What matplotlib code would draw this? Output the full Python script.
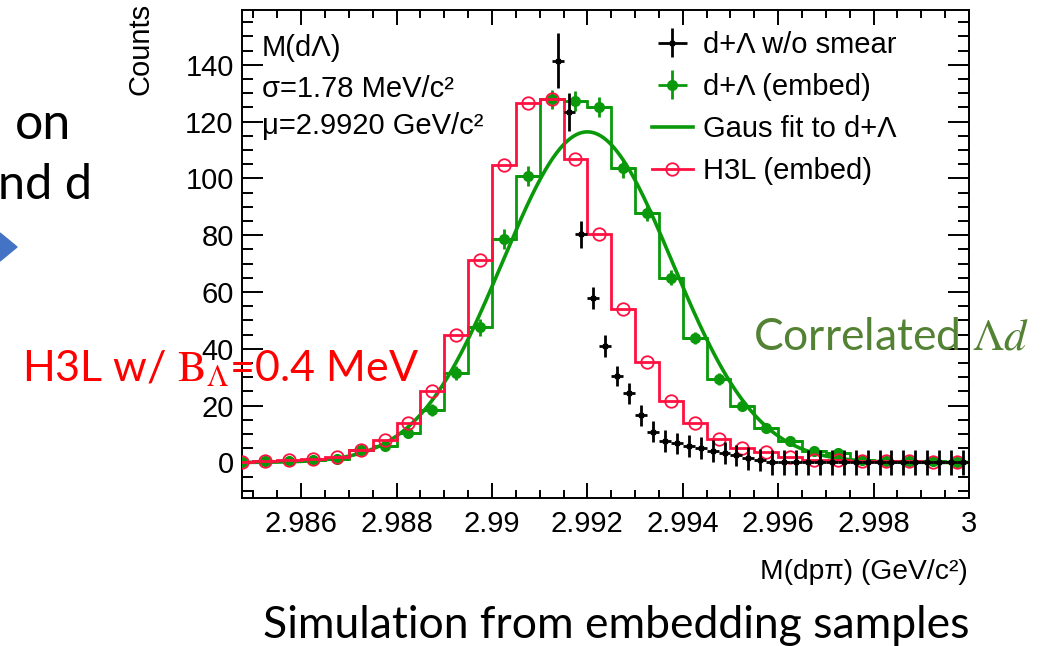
import numpy as np
import matplotlib
matplotlib.use("Agg")
import matplotlib.pyplot as plt
from matplotlib.lines import Line2D
from matplotlib.patches import Polygon

# ---------------- data ----------------
bin_width = 0.0005          # GeV, embed histograms
first_edge = 2.9845
green_counts = [0.3, 0.5, 0.7, 1.0, 1.4, 4.5, 5.8, 10.5, 18.5, 31.5, 47.6, 78.8,
                100.8, 127.8, 127.4, 125.3, 103.6, 87.9, 65.1, 43.8, 29.4, 19.8,
                12.1, 7.4, 4.1, 3.4, 1.0, 0.6, 0.5, 0.4, 0.3]
green_err = [0.3, 0.4, 0.5, 0.5, 0.6, 1.0, 1.2, 1.5, 2.0, 2.5, 3.0, 3.5,
             3.5, 3.5, 3.5, 3.5, 3.3, 3.0, 2.7, 2.2, 2.0, 1.6,
             1.2, 1.0, 0.8, 0.7, 0.4, 0.3, 0.3, 0.3, 0.3]
red_counts = [0.3, 0.5, 0.8, 1.3, 2.0, 4.5, 8.0, 14.0, 25.0, 44.8, 71.4, 104.7,
              126.7, 127.8, 106.8, 80.5, 53.9, 35.3, 21.5, 13.9, 8.3, 5.1,
              3.6, 2.0, 1.0, 0.8, 0.6, 0.5, 0.4, 0.3, 0.3]

fine_width = 0.00025        # GeV, d+Lambda w/o smear
black_first_edge = 2.99125
black_counts = [141.4, 123.3, 80.3, 57.9, 41.0, 30.5, 24.3, 16.6, 10.9, 7.5,
                6.7, 5.9, 5.0, 4.1, 3.3, 2.5, 1.5, 0.9,
                0, 0, 0, 0, 0, 0, 0, 0, 0, 0, 0, 0, 0, 0, 0, 0, 0]
black_err = [9.7, 6.7, 4.7, 4.0, 3.8, 3.6, 3.8, 3.8, 3.6, 3.8,
             3.8, 3.8, 3.8, 3.8, 3.8, 3.8, 4.0, 4.0,
             4.3, 4.3, 4.3, 4.3, 4.3, 4.3, 4.3, 4.3, 4.3, 4.3, 4.3, 4.3, 4.3, 4.3, 4.3, 4.3, 4.3]

fit_amp = 116.4
fit_mu = 2.9920
fit_sigma = 0.00178

x_ticks = [2.986, 2.988, 2.990, 2.992, 2.994, 2.996, 2.998, 3.000]
x_tick_labels = ["2.986", "2.988", "2.99", "2.992", "2.994", "2.996", "2.998", "3"]
y_ticks = [0, 20, 40, 60, 80, 100, 120, 140]

legend_labels = ["d+Λ w/o smear", "d+Λ (embed)", "Gaus fit to d+Λ", "H3L (embed)"]

# ---------------- style ----------------
GREEN = "#0a990a"
RED = "#ff1040"
ROOT_FONT = "Liberation Sans"
FS = 21

plt.rcParams["font.family"] = [ROOT_FONT, "DejaVu Sans"]

W, H = 1053, 646
fig = plt.figure(figsize=(W / 100, H / 100), dpi=100)
L, R, T, B = 242, 969, 10, 498
ax = fig.add_axes([L / W, 1 - B / H, (R - L) / W, (B - T) / H])

edges = first_edge + bin_width * np.arange(len(green_counts) + 1)
centers = edges[:-1] + bin_width / 2
fedges = black_first_edge + fine_width * np.arange(len(black_counts) + 1)
fcenters = fedges[:-1] + fine_width / 2

# green histogram + points
ax.stairs(green_counts, edges, color=GREEN, lw=2.0, zorder=2)
ge = ax.errorbar(centers, green_counts, yerr=green_err, xerr=bin_width / 2,
                 fmt="o", color=GREEN, ms=7, elinewidth=2.0, capsize=0, zorder=3)

# Gaussian fit curve
xf = np.linspace(2.98475, 3.0, 600)
yf = fit_amp * np.exp(-0.5 * ((xf - fit_mu) / fit_sigma) ** 2)
fl, = ax.plot(xf, yf, color=GREEN, lw=2.6, zorder=4)

# red histogram + open markers
ax.stairs(red_counts, edges, color=RED, lw=2.0, zorder=5)
ax.plot(centers, red_counts, "o", ms=9, mfc="none", mec=RED, mew=1.3, zorder=6)
rh = Line2D([], [], color=RED, lw=2.0, marker="o", ms=9, mfc="none", mec=RED, mew=1.3)

# black points
be = ax.errorbar(fcenters, black_counts, yerr=black_err, xerr=fine_width / 2,
                 fmt="s", color="black", ms=3, elinewidth=2.0, capsize=0, zorder=7)

ax.set_xlim(2.98476, 3.0)
ax.set_ylim(-12.5, 159.3)
ax.set_xticks(x_ticks)
ax.set_xticklabels(x_tick_labels)
ax.set_yticks(y_ticks)
ax.xaxis.set_minor_locator(matplotlib.ticker.MultipleLocator(0.0005))
ax.yaxis.set_minor_locator(matplotlib.ticker.MultipleLocator(5))
ax.tick_params(which="both", direction="in", top=True, right=True, width=1.4,
               labelsize=FS)
ax.xaxis.set_tick_params(which="major", length=11, pad=9)
ax.xaxis.set_tick_params(which="minor", length=5.5)
ax.yaxis.set_tick_params(which="major", length=15, pad=6)
ax.yaxis.set_tick_params(which="minor", length=8)
for s in ax.spines.values():
    s.set_linewidth(1.4)

leg = ax.legend([be, ge, fl, rh], legend_labels, loc="upper left",
                bbox_to_anchor=(652 / W, 1 - 31 / H), bbox_transform=fig.transFigure,
                frameon=False, fontsize=FS, handlelength=1.4, handletextpad=0.35,
                labelspacing=0.48, borderpad=0, borderaxespad=0)

# ROOT texts
fig.text(262 / W, 1 - 48 / H, "M(dΛ)", fontsize=FS, ha="left", va="center")
fig.text(262 / W, 1 - 89 / H, "σ=1.78 MeV/c²", fontsize=FS, ha="left", va="center")
fig.text(262 / W, 1 - 126 / H, "μ=2.9920 GeV/c²", fontsize=FS, ha="left", va="center")
fig.text(140 / W, 1 - 3 / H, "Counts", fontsize=FS, rotation=90, ha="center", va="top")
fig.text(968 / W, 1 - 572 / H, "M(dpπ) (GeV/c²)", fontsize=FS * 0.97, ha="right", va="center")

# slide texts
SLIDE = ["Lato", "DejaVu Sans"]
fig.text(263 / W, 1 - 625 / H, "Simulation from embedding samples", fontsize=32,
         family=SLIDE, ha="left", va="center")
fig.text(22 / W, 1 - 369 / H, r"H3L w/ $\mathrm{B}_{\Lambda}$=0.4 MeV", fontsize=31,
         family=SLIDE, color="#ff0000", ha="left", va="center", math_fontfamily="stix")
fig.text(753 / W, 1 - 337 / H, r"Correlated $\mathit{\Lambda d}$", fontsize=32,
         family=SLIDE, color="#548235", ha="left", va="center", math_fontfamily="stix")
fig.text(15 / W, 1 - 125 / H, "on", fontsize=36, family=SLIDE, ha="left", va="center")
fig.text(-2 / W, 1 - 185 / H, "nd d", fontsize=35, family=SLIDE, ha="left", va="center")
fig.patches.append(Polygon([(0, 1 - 233 / H), (17 / W, 1 - 247 / H), (0, 1 - 261 / H)],
                           closed=True, transform=fig.transFigure, color="#4472c4"))

fig.savefig("out.png", dpi=100)
